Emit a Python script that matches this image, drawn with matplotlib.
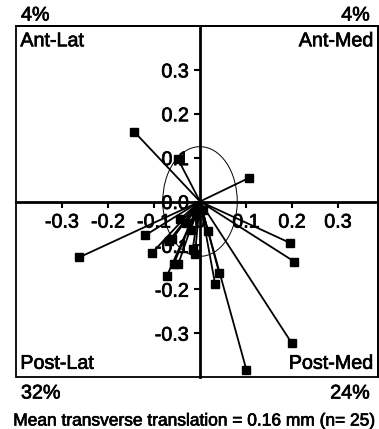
"""
Transverse translation vectors, one per specimen, from the origin.
"""
import matplotlib
matplotlib.use("Agg")
import matplotlib.pyplot as plt
import matplotlib.patheffects as pe
from matplotlib.patches import Ellipse, Rectangle

plt.rcParams['font.family'] = ['Liberation Sans', 'DejaVu Sans']

# Data: end points of the translation vectors (mm)
x_vals = [-0.143, -0.048, 0.107, -0.262, -0.119, -0.105, -0.072, -0.057,
          -0.047, -0.067, -0.043, -0.020, -0.016, -0.011, 0.017, 0.042,
          0.033, 0.101, 0.199, 0.205, 0.195, -0.060, -0.030, -0.008, 0.006]
y_vals = [0.159, 0.097, 0.054, -0.127, -0.077, -0.118, -0.170, -0.142,
          -0.142, -0.089, -0.040, -0.065, -0.109, -0.120, -0.068, -0.164,
          -0.189, -0.384, -0.322, -0.137, -0.094, -0.085, -0.050, -0.030, -0.020]
# full width / height of the ellipse around the origin
ellipse_w = 0.162
ellipse_h = 0.250
x_ticks = [-0.3, -0.2, -0.1, 0.0, 0.1, 0.2, 0.3]
x_tick_labels = ["-0.3", "-0.2", "-0.1", "0", "0.1", "0.2", "0.3"]
y_ticks = [-0.3, -0.2, -0.1, 0.0, 0.1, 0.2, 0.3]
y_tick_labels = ["-0.3", "-0.2", "-0.1", "0.0", "0.1", "0.2", "0.3"]
quadrants = ["Ant-Lat", "Ant-Med", "Post-Lat", "Post-Med"]
percents = ["4%", "4%", "32%", "24%"]
caption = "Mean transverse translation = 0.16 mm (n= 25)"

FS = 14.2
# thickens the regular face a little, the original type is heavier
heavy = [pe.withStroke(linewidth=0.5, foreground="black")]

fig = plt.figure(figsize=(3.79, 4.29), dpi=100)
ax = fig.add_axes([16 / 379, 1 - 377 / 429, 362 / 379, 351 / 429])
ax.set_xlim(-0.4, 0.387)
ax.set_ylim(-0.4, 0.4)

# vectors
for xv, yv in zip(x_vals, y_vals):
    ax.plot([0, xv], [0, yv], color="black", lw=1.3, zorder=3, solid_capstyle="butt")
ax.plot(x_vals, y_vals, ls="none", marker="s", ms=5.2, color="black", zorder=4)

ax.add_patch(Ellipse((0, 0), ellipse_w, ellipse_h, fill=False,
                     edgecolor="black", lw=0.7, zorder=3))

# centred axes, with a box frame around
for side in ["top", "right"]:
    ax.spines[side].set_linewidth(1.3)
for side in ["left", "bottom"]:
    ax.spines[side].set_position(("data", 0))
    ax.spines[side].set_linewidth(2.0)
    ax.spines[side].set_zorder(3)
ax.add_patch(Rectangle((0, 0), 1, 1, transform=ax.transAxes, fill=False,
                       edgecolor="black", lw=1.3, clip_on=False, zorder=5))

ax.set_xticks(x_ticks)
ax.set_xticklabels(x_tick_labels)
ax.set_yticks(y_ticks)
ax.set_yticklabels(y_tick_labels)
ax.tick_params(axis="both", direction="out", length=4, width=1.5,
               labelsize=FS, pad=4, colors="black")
for lab in ax.get_xticklabels() + ax.get_yticklabels():
    lab.set_path_effects(heavy)

# quadrant labels
ax.text(0.012, 0.985, quadrants[0], transform=ax.transAxes, ha="left", va="top",
        fontsize=FS, path_effects=heavy)
ax.text(0.988, 0.985, quadrants[1], transform=ax.transAxes, ha="right", va="top",
        fontsize=FS, path_effects=heavy)
ax.text(0.012, 0.012, quadrants[2], transform=ax.transAxes, ha="left", va="bottom",
        fontsize=FS, path_effects=heavy)
ax.text(0.988, 0.012, quadrants[3], transform=ax.transAxes, ha="right", va="bottom",
        fontsize=FS, path_effects=heavy)

# percentages outside the frame
fig.text(21 / 379, 1 - 15 / 429, percents[0], ha="left", va="center", fontsize=FS, path_effects=heavy)
fig.text(370 / 379, 1 - 15 / 429, percents[1], ha="right", va="center", fontsize=FS, path_effects=heavy)
fig.text(21 / 379, 1 - 393 / 429, percents[2], ha="left", va="center", fontsize=FS, path_effects=heavy)
fig.text(370 / 379, 1 - 393 / 429, percents[3], ha="right", va="center", fontsize=FS, path_effects=heavy)

fig.text(195 / 379, 1 - 421 / 429, caption, ha="center", va="center", fontsize=12.5,
         path_effects=heavy)

fig.savefig("out.png", dpi=100)
